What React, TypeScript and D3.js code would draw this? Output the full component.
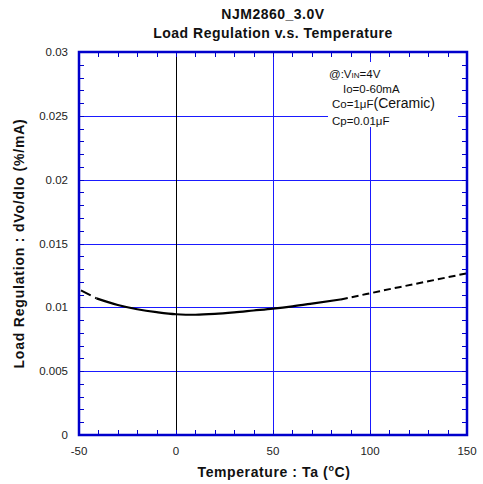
import React from 'react';
import * as d3 from 'd3';

// temperature (°C) / load regulation (%/mA)
const LEFT_DASH_T = [-49, -41];
const LEFT_DASH_V = [0.01133, 0.0107];
const SOLID_T = [-41, -30, -20, -10, 0, 10, 20, 30, 40, 50, 60, 70, 85];
const SOLID_V = [0.0107, 0.01018, 0.00985, 0.00962, 0.00946, 0.00942, 0.00948, 0.0096, 0.00975, 0.0099, 0.01008, 0.01029, 0.01062];
const RIGHT_DASH_T = [85, 100, 115, 130, 150];
const RIGHT_DASH_V = [0.01062, 0.0111, 0.01158, 0.01204, 0.01267];

const X_TICKS = [-50, 0, 50, 100, 150];
const Y_TICKS = [0, 0.005, 0.01, 0.015, 0.02, 0.025, 0.03];
const Y_LABELS = ['0', '0.005', '0.01', '0.015', '0.02', '0.025', '0.03'];

const W = 483;
const H = 484;
const FRAME = '#0000cc';
const GRID = '#1a1aff';
const FONT = 'Liberation Sans, Arial, Helvetica, sans-serif';

const x = d3.scaleLinear().domain([-50, 150]).range([79, 467]);
const y = d3.scaleLinear().domain([0, 0.03]).range([435, 52]);
// snap thin lines onto the pixel grid
const px = (v: number) => Math.round(v) + 0.5;

const zip = (t: number[], v: number[]) => t.map((d, i) => [d, v[i]] as [number, number]);
const line = d3.line<[number, number]>()
  .x(d => x(d[0]))
  .y(d => y(d[1]))
  .curve(d3.curveMonotoneX);

export default function App() {
  const [x0, x1] = x.range();
  const [y0, y1] = y.range();
  const xMinor = d3.range(-40, 150, 10);
  const yMinor = d3.range(1, 30).map(d => d / 1000);

  return (
    <svg width={W} height={H} style={{ position: 'absolute', left: 0, top: 0, background: '#fff' }} fontFamily={FONT}>
      {/* grid */}
      {Y_TICKS.slice(1, -1).map(t => (
        <line key={'gy' + t} x1={x0} x2={x1} y1={px(y(t))} y2={px(y(t))} stroke={GRID} strokeWidth={1} />
      ))}
      {X_TICKS.slice(1, -1).map(t => (
        <line key={'gx' + t} x1={px(x(t))} x2={px(x(t))} y1={y0} y2={y1} stroke={t === 0 ? '#000' : GRID} strokeWidth={1} />
      ))}

      {/* minor ticks, inside on all four sides */}
      {xMinor.map(t => (
        <g key={'mx' + t}>
          <line x1={px(x(t))} x2={px(x(t))} y1={y0} y2={y0 - 5} stroke={FRAME} strokeWidth={1} />
          <line x1={px(x(t))} x2={px(x(t))} y1={y1} y2={y1 + 5} stroke={FRAME} strokeWidth={1} />
        </g>
      ))}
      {yMinor.map(t => (
        <g key={'my' + t}>
          <line x1={x0} x2={x0 + 5} y1={px(y(t))} y2={px(y(t))} stroke={FRAME} strokeWidth={1} />
          <line x1={x1} x2={x1 - 5} y1={px(y(t))} y2={px(y(t))} stroke={FRAME} strokeWidth={1} />
        </g>
      ))}

      {/* conditions box */}
      <rect x={328} y={62} width={130} height={65} fill="#fff" />
      <g fontSize={11.5} fill="#111">
        <text x={329} y={78}>@:V<tspan fontSize={8}>IN</tspan>=4V</text>
        <text x={343} y={93}>Io=0-60mA</text>
        <text x={332} y={108}>Co=1μF<tspan fontSize={14}>(Ceramic)</tspan></text>
        <text x={332} y={125}>Cp=0.01μF</text>
      </g>

      {/* curve */}
      <path d={line(zip(LEFT_DASH_T, LEFT_DASH_V)) ?? ''} fill="none" stroke="#000" strokeWidth={2} strokeDasharray="11,5" />
      <path d={line(zip(SOLID_T, SOLID_V)) ?? ''} fill="none" stroke="#000" strokeWidth={2.2} />
      <path d={line(zip(RIGHT_DASH_T, RIGHT_DASH_V)) ?? ''} fill="none" stroke="#000" strokeWidth={2} strokeDasharray="7,4" />

      {/* frame */}
      <rect x={x0} y={y1} width={x1 - x0} height={y0 - y1} fill="none" stroke={FRAME} strokeWidth={2.5} />

      {/* tick labels */}
      {X_TICKS.map(t => (
        <text key={'xl' + t} x={x(t)} y={455} textAnchor="middle" fontSize={11.5} fill="#222">{t}</text>
      ))}
      {Y_TICKS.map((t, i) => (
        <text key={'yl' + t} x={68} y={y(t) + 4} textAnchor="end" fontSize={11.5} fill="#222">{Y_LABELS[i]}</text>
      ))}

      {/* titles */}
      <g fontWeight="bold" fill="#111" textAnchor="middle" fontSize={14}>
        <text x={273} y={19} letterSpacing={0.5}>NJM2860_3.0V</text>
        <text x={273} y={38} letterSpacing={0.5}>Load Regulation v.s. Temperature</text>
        <text x={274} y={477} letterSpacing={0.6}>Temperature : Ta (<tspan fontSize={9} dy={-6}>o</tspan><tspan dy={6}>C)</tspan></text>
        <text transform={`translate(24,${(y0 + y1) / 2}) rotate(-90)`} letterSpacing={0.8}>Load Regulation : dVo/dIo (%/mA)</text>
      </g>
    </svg>
  );
}
